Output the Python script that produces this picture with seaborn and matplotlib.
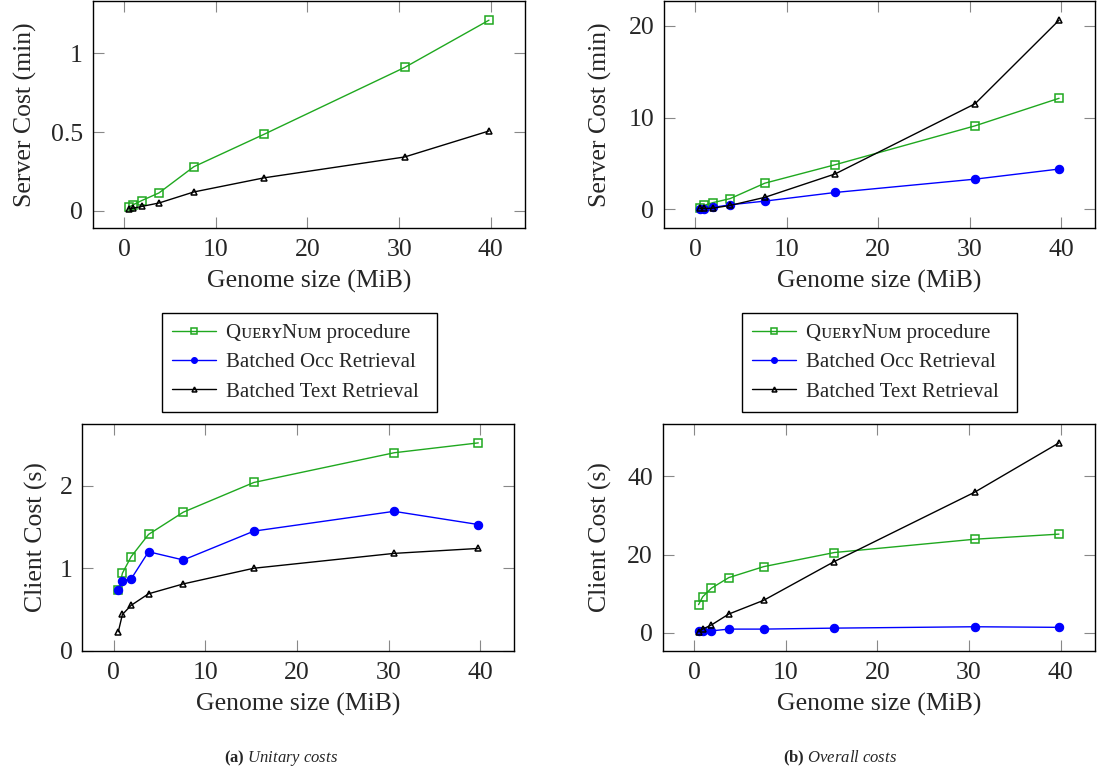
import matplotlib
matplotlib.use("Agg")
import matplotlib.pyplot as plt
import seaborn as sns
import pandas as pd

# ---------------- data ----------------
genome_size = [0.5, 0.95, 1.9, 3.8, 7.6, 15.3, 30.6, 39.8]
x_ticks = [0, 10, 20, 30, 40]

series_names = ["Q\u1d1c\u1d07\u0280\u028fN\u1d1c\u1d0d procedure",
                "Batched Occ Retrieval",
                "Batched Text Retrieval"]

# (a) unitary costs
unit_server_querynum = [0.023, 0.038, 0.065, 0.114, 0.28, 0.487, 0.91, 1.21]
unit_server_text = [0.013, 0.017, 0.028, 0.05, 0.12, 0.21, 0.342, 0.507]

unit_client_querynum = [0.73, 0.94, 1.14, 1.41, 1.68, 2.04, 2.40, 2.52]
unit_client_occ = [0.735, 0.85, 0.87, 1.20, 1.10, 1.45, 1.69, 1.53]
unit_client_text = [0.23, 0.44, 0.55, 0.69, 0.81, 1.00, 1.18, 1.24]

# (b) overall costs
all_server_querynum = [0.19, 0.44, 0.74, 1.18, 2.86, 4.87, 9.1, 12.1]
all_server_occ = [0.07, 0.07, 0.22, 0.51, 0.91, 1.85, 3.3, 4.4]
all_server_text = [0.11, 0.11, 0.14, 0.44, 1.32, 3.87, 11.5, 20.6]

all_client_querynum = [7.2, 9.2, 11.4, 14.1, 16.9, 20.5, 23.9, 25.2]
all_client_occ = [0.43, 0.5, 0.5, 0.95, 0.95, 1.2, 1.55, 1.4]
all_client_text = [0.26, 0.95, 2.0, 4.8, 8.3, 18.2, 35.9, 48.5]

y_ticks_unit_server = [0, 0.5, 1]
y_ticks_unit_client = [0, 1, 2]
y_ticks_all_server = [0, 10, 20]
y_ticks_all_client = [0, 20, 40]

# ---------------- style ----------------
sns.set_theme(style="ticks")
plt.rcParams["font.family"] = ["Liberation Serif", "DejaVu Serif"]
plt.rcParams["mathtext.fontset"] = "custom"
plt.rcParams["mathtext.rm"] = "Liberation Serif"
plt.rcParams["mathtext.it"] = "Liberation Serif:italic"
plt.rcParams["mathtext.bf"] = "Liberation Serif:bold"

GREEN = "#1fa81f"
BLUE = "#0000ff"
BLACK = "#000000"
styles = [
    dict(color=GREEN, marker="s", mfc="none", mec=GREEN, ms=5.8, mew=1.1, lw=1.0),
    dict(color=BLUE, marker="o", mfc=BLUE, mec=BLUE, ms=6.0, mew=0.8, lw=1.0),
    dict(color=BLACK, marker="^", mfc="none", mec=BLACK, ms=5.0, mew=1.1, lw=1.0),
]

fig = plt.figure(figsize=(11, 7.76), dpi=100)
W, H = 1100, 776


def axes_px(left, top, right, bottom):
    return fig.add_axes([left / W, 1 - bottom / H, (right - left) / W, (bottom - top) / H])


ax_tl = axes_px(92.7, 1.3, 525, 227.7)
ax_tr = axes_px(664, 1.3, 1095, 227.7)
ax_bl = axes_px(82.3, 424, 514.3, 650.7)
ax_br = axes_px(662.5, 424, 1095, 650.7)

FS = 18.5


def draw(ax, series, yticks, ylabel, ylab_x):
    allv = []
    for idx, vals in series:
        st = styles[idx]
        sns.lineplot(x=genome_size, y=vals, ax=ax, color=st["color"], marker=st["marker"],
                     markerfacecolor=st["mfc"], mec=st["mec"], markersize=st["ms"], mew=st["mew"],
                     linewidth=st["lw"], label=series_names[idx], legend=False)
        allv += vals
    xr = max(genome_size) - min(genome_size)
    ax.set_xlim(min(genome_size) - 0.1 * xr, max(genome_size) + 0.1 * xr)
    yr = max(allv) - min(allv)
    ax.set_ylim(min(allv) - 0.1 * yr, max(allv) + 0.1 * yr)
    ax.set_xticks(x_ticks)
    ax.set_xticklabels([str(t) for t in x_ticks])
    ax.set_yticks(yticks)
    ax.set_yticklabels([f"{t:g}" for t in yticks])
    ax.tick_params(axis="both", direction="in", length=8, width=0.8, color="#888888",
                   top=True, right=True, labelsize=FS)
    ax.tick_params(axis="x", pad=8)
    ax.tick_params(axis="y", pad=7)
    for sp in ax.spines.values():
        sp.set_visible(True)
        sp.set_color("black")
        sp.set_linewidth(1.0)
    ax.set_xlabel("Genome size (MiB)", fontsize=FS, va="center")
    ax.xaxis.set_label_coords(0.5, -54 / 226.4)
    ax.set_ylabel(ylabel, fontsize=FS, va="center")
    ax.yaxis.set_label_coords(ylab_x, 0.5)
    ax.grid(False)


draw(ax_tl, [(0, unit_server_querynum), (2, unit_server_text)],
     y_ticks_unit_server, "Server Cost (min)", -0.155)
draw(ax_tr, [(0, all_server_querynum), (1, all_server_occ), (2, all_server_text)],
     y_ticks_all_server, "Server Cost (min)", -0.148)
draw(ax_bl, [(0, unit_client_querynum), (1, unit_client_occ), (2, unit_client_text)],
     y_ticks_unit_client, "Client Cost (s)", -0.107)
draw(ax_br, [(0, all_client_querynum), (1, all_client_occ), (2, all_client_text)],
     y_ticks_all_client, "Client Cost (s)", -0.144)

handles = ax_tr.get_lines()[:3]
for x0 in (162, 742):
    leg = fig.legend(handles=handles, labels=series_names, loc="upper left", mode="expand",
                     bbox_to_anchor=(x0 / W, 1 - 410 / H, 275 / W, 97 / H), borderaxespad=0,
                     fontsize=15, frameon=True, fancybox=False, edgecolor="black",
                     framealpha=1, handlelength=2.1, handletextpad=0.45, labelspacing=0.47,
                     borderpad=0.5, markerscale=0.7)
    leg.get_frame().set_linewidth(1.0)

fig.text(281 / W, 1 - 758 / H, r"$\mathbf{(a)}$ $\mathit{Unitary\ costs}$",
         ha="center", va="center", fontsize=12)
fig.text(840 / W, 1 - 758 / H, r"$\mathbf{(b)}$ $\mathit{Overall\ costs}$",
         ha="center", va="center", fontsize=12)

fig.savefig("out.png", dpi=100)
